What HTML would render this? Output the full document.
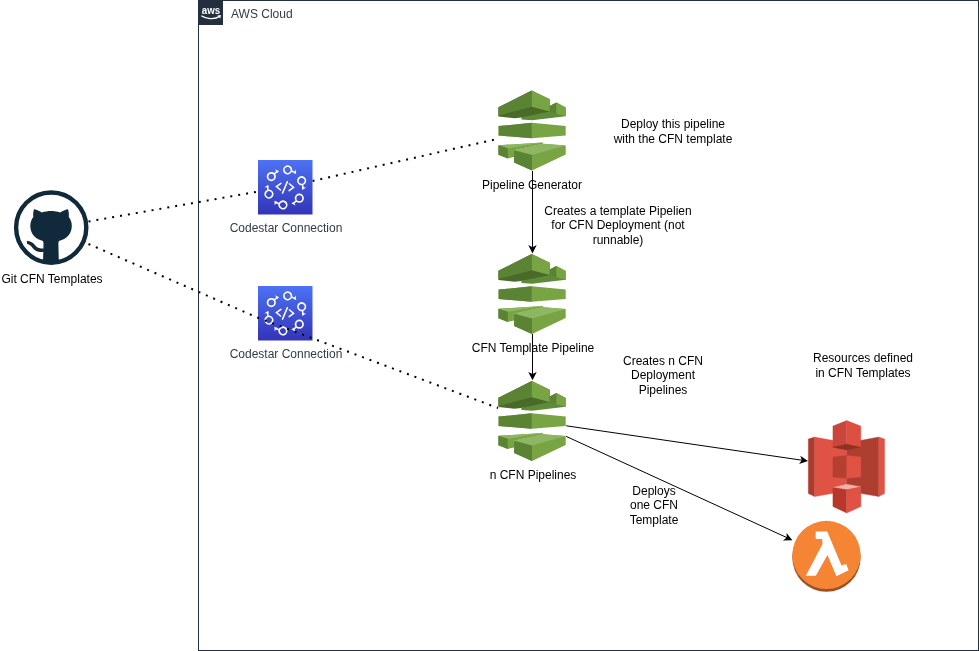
<!DOCTYPE html>
<html><head><meta charset="utf-8">
<style>
html,body{margin:0;padding:0;background:#fff;}
body{width:979px;height:651px;position:relative;overflow:hidden;font-family:"Liberation Sans",sans-serif;}
svg{position:absolute;left:0;top:0;will-change:transform;}
.t{position:absolute;will-change:transform;font-size:12px;line-height:14.4px;color:#000;text-align:center;white-space:nowrap;}
.g{color:#000;}
.n{color:#313B47;}
</style></head>
<body>
<svg width="979" height="651" viewBox="0 0 979 651">
<defs>
<linearGradient id="dev" x1="0" y1="0" x2="0" y2="1">
<stop offset="0" stop-color="#4D72F3"/><stop offset="1" stop-color="#3334B9"/>
</linearGradient>
<g id="cp">
<polygon points="23.4,27.5 51.7,15.9 58.4,12.6 67.7,17.4 67.7,26.2 34.0,30.2 23.4,29.4" fill="#5F8A37"/>
<polygon points="51.7,15.9 58.4,12.6 58.4,23.8 51.7,22.2" fill="#5A8434"/>
<polygon points="58.4,12.6 67.7,17.4 67.7,26.2 58.4,23.8" fill="#78A443"/>
<polygon points="0.4,17.2 33.7,0.6 51.7,9.2 51.7,21.4 23.4,27.6 16.5,28.2 0.4,26.4" fill="#4A6A2A"/>
<polygon points="0.4,17.2 33.7,0.6 33.7,16.8 0.4,25.4" fill="#5A8434"/>
<polygon points="33.7,0.6 51.7,9.2 51.7,21.4 33.7,16.8" fill="#78A443"/>
<polygon points="0.6,36.1 33.7,32.7 67.7,36.1 67.7,45.4 33.7,48.3 0.6,45.4" fill="#78A443"/>
<polygon points="0.6,36.1 33.7,32.7 33.7,48.3 0.6,45.4" fill="#5A8434"/>
<polygon points="0.4,55.3 44.9,52.4 44.9,53.8 16.1,60.3 16.1,66.9 9.8,68.4 0.4,64.8" fill="#78A443"/>
<polygon points="0.4,55.3 44.9,52.4 9.8,58.3" fill="#8FB763"/>
<polygon points="0.4,55.3 9.8,58.3 9.8,68.4 0.4,64.8" fill="#5A8434"/>
<polygon points="16.1,60.3 44.9,53.8 67.7,55.4 67.7,64.6 34.0,80.6 16.1,72.6" fill="#78A443"/>
<polygon points="16.1,60.3 44.9,53.8 67.7,55.4 34.0,65.1" fill="#8FB763"/>
<polygon points="16.1,60.3 34.0,65.1 34.0,80.6 16.1,72.6" fill="#5A8434"/>
</g>
<g id="csym">
<rect x="258" y="160" width="54.5" height="54.5" fill="url(#dev)"/>
<g fill="none" stroke="#fff" stroke-width="1.5" stroke-linecap="round" stroke-linejoin="miter">
<polyline points="280.9,183.4 276.4,186.6 280.5,190"/>
<line x1="287.4" y1="181.6" x2="282.5" y2="193.1"/>
<polyline points="289.4,183.8 293.6,187.4 289.1,190.6"/>
</g>
<g id="mars">
<circle cx="271.3" cy="176.6" r="3.75" fill="none" stroke="#fff" stroke-width="1.7"/>
<line x1="274.2" y1="173.9" x2="277" y2="171.7" stroke="#fff" stroke-width="1.5"/>
<polygon points="275.1,169.3 279.1,171.3 277,173.1" fill="#fff"/>
</g>
<use href="#mars" transform="rotate(60 285.3 187.4)"/>
<use href="#mars" transform="rotate(120 285.3 187.4)"/>
<use href="#mars" transform="rotate(180 285.3 187.4)"/>
<use href="#mars" transform="rotate(240 285.3 187.4)"/>
<use href="#mars" transform="rotate(300 285.3 187.4)"/>
</g>
</defs>

<!-- AWS Cloud group -->
<rect x="198.5" y="0.5" width="780" height="650" fill="none" stroke="#232F3E" stroke-width="1"/>
<rect x="198" y="0" width="25" height="25" fill="#232F3E"/>
<text x="201.8" y="13.8" font-family="Liberation Sans" font-weight="bold" font-size="10.6" fill="#fff" textLength="18.3" lengthAdjust="spacingAndGlyphs">aws</text>
<path d="M201.3,15.7 C205.5,18.8 214.5,20 219.6,16.4" fill="none" stroke="#fff" stroke-width="1.3"/>
<polygon points="217.3,15.4 220.9,15.1 220.3,18.6" fill="#fff"/>

<!-- dotted lines -->
<g stroke="#000" stroke-width="2" stroke-dasharray="2 6" fill="none">
<path d="M88.5,221.5 L258.5,191.5"/>
<path d="M312.5,181 L497,139"/>
</g>

<!-- codestar icons -->
<use href="#csym"/>
<use href="#csym" y="126"/>



<!-- github -->
<clipPath id="ghc"><circle cx="51.2" cy="227.6" r="34"/></clipPath>
<circle cx="51.2" cy="227.6" r="35.1" fill="none" stroke="#10293B" stroke-width="4.4"/>
<g fill="#10293B" clip-path="url(#ghc)">
<path d="M34,209.3 C35.8,209.3 38.8,210.8 42,212.5 C44.8,211.5 47.8,211 51,211 C54.2,211 57.2,211.5 60,212.5 C63.2,210.8 66.2,209.3 68,209.3 C68.9,211.7 69,214.5 68.8,216.9 C70.8,219.4 71.8,222.4 71.8,226 C71.8,233.8 66.5,239 59,241 C58.6,241.5 58.4,242.5 58.4,244 L58.8,262 L43,262 L43.5,244 C43.5,242.5 43.3,241.5 42.9,241 C35.5,239 30.3,233.8 30.3,226 C30.3,222.4 31.3,219.4 33.3,216.9 C33,214.5 33.1,211.7 34,209.3 Z"/>
<path d="M26.8,240.7 C30.5,240.9 33.2,242.7 35.3,245.4 C37.2,247.9 39.8,248.6 43.8,248.6 L43.8,252.1 C38.8,252.1 35.3,251.3 33,248.4 C31.2,246 29.6,244.3 27.2,243.9 Z"/>
</g>

<!-- pipelines -->
<use href="#cp" x="498" y="90"/>
<use href="#cp" x="498" y="253.5"/>
<use href="#cp" x="498" y="380.5"/>

<g id="s3">
<!-- left wing -->
<polygon points="808.3,439 814.7,437 814.7,496.6 808.3,493.5" fill="#AC3A2D" stroke="#AC3A2D" stroke-width="0.35"/>
<polygon points="814.7,437 846.7,443 846.7,491 814.7,496.6" fill="#E05243" stroke="#E05243" stroke-width="0.35"/>
<!-- right wing -->
<polygon points="846.7,443 878.8,437 878.8,496.6 846.7,491" fill="#AD3E30" stroke="#AD3E30" stroke-width="0.35"/>
<polygon points="878.8,437 884.6,439 884.6,493.5 878.8,496.6" fill="#E05243" stroke="#E05243" stroke-width="0.35"/>
<!-- top cube -->
<polygon points="832.9,426 846.7,420.6 846.7,449.5 832.9,447.2" fill="#C9463A" stroke="#C9463A" stroke-width="0.35"/>
<polygon points="846.7,420.6 860.8,426 860.8,447.2 846.7,449.5" fill="#DC4F41" stroke="#DC4F41" stroke-width="0.35"/>
<polygon points="832.9,447.2 846.7,444.2 860.8,447.2 846.7,449.9" fill="#8C3123" stroke="#8C3123" stroke-width="0.35"/>
<!-- middle cube -->
<polygon points="832.9,457.1 846.7,455.4 846.7,478.2 832.9,476.9" fill="#B53F30" stroke="#B53F30" stroke-width="0.35"/>
<polygon points="846.7,455.4 860.9,457.1 860.9,476.9 846.7,478.2" fill="#E05243" stroke="#E05243" stroke-width="0.35"/>
<!-- bottom cube -->
<polygon points="832.9,487.6 846.7,484.2 860.9,486.8 846.7,489.8" fill="#F2B0A9" stroke="#F2B0A9" stroke-width="0.35"/>
<polygon points="832.9,487.6 846.7,489.8 846.7,513 832.9,506.6" fill="#B7372B" stroke="#B7372B" stroke-width="0.35"/>
<polygon points="846.7,489.8 860.9,486.8 860.9,506.6 846.7,513" fill="#E05243" stroke="#E05243" stroke-width="0.35"/>
</g>
<g id="lam">
<circle cx="826.45" cy="557.6" r="34.15" fill="#9D5025"/>
<circle cx="826.45" cy="554.95" r="34.15" fill="#F58534"/>
<polygon points="815.7,531.4 827.2,531.4 841.5,565.5 846.2,564 848.6,570.2 836.4,576.2 827.5,555 815.8,575.8 805.8,575.8 822.5,544 822.2,539 815.7,539" fill="#fff"/>
</g>
<!-- arrows -->
<g stroke="#000" stroke-width="1" fill="none">
<path d="M532.5,171 L532.5,248"/>
<path d="M532.5,334 L532.5,375"/>
<path d="M566.2,425.8 L802.6,460.3"/>
<path d="M566.2,436.4 L787.5,537.9"/>
</g>
<g fill="#000">
<polygon points="532.50,253.40 528.30,245.00 532.50,247.20 536.70,245.00"/>
<polygon points="532.50,380.30 528.30,371.90 532.50,374.10 536.70,371.90"/>
<polygon points="808.00,461.10 799.08,464.04 801.87,460.20 800.29,455.73"/>
<polygon points="792.40,540.20 783.01,540.51 786.76,537.61 786.52,532.88"/>
</g>

</svg>

<div class="t n" style="left:230.5px;top:7px;text-align:left;">AWS Cloud</div>
<div class="t g" style="left:432px;top:178px;width:200px;">Pipeline Generator</div>
<div class="t n" style="left:186px;top:220.5px;width:200px;">Codestar Connection</div>
<div class="t n" style="left:186px;top:346.5px;width:200px;">Codestar Connection</div>
<div class="t" style="left:-48.2px;top:272px;width:200px;">Git CFN Templates</div>
<div class="t g" style="left:573px;top:116.5px;width:200px;">Deploy this pipeline</div>
<div class="t g" style="left:573px;top:131.9px;width:200px;">with the CFN template</div>
<div class="t g" style="left:518px;top:203.6px;width:200px;">Creates a template Pipelien<br>for CFN Deployment (not<br>runnable)</div>
<div class="t g" style="left:432.5px;top:340.5px;width:200px;">CFN Template Pipeline</div>
<div class="t g" style="left:563px;top:354.3px;width:200px;">Creates n CFN<br>Deployment<br>Pipelines</div>
<div class="t g" style="left:763px;top:350.5px;width:200px;">Resources defined</div>
<div class="t g" style="left:763px;top:365.9px;width:200px;">in CFN Templates</div>
<div class="t g" style="left:432.5px;top:468px;width:200px;">n CFN Pipelines</div>
<div class="t g" style="left:554.3px;top:484px;width:200px;">Deploys<br>one CFN<br>Template</div>
<svg width="979" height="651" viewBox="0 0 979 651" style="position:absolute;left:0;top:0;">
<g stroke="#000" stroke-width="2" stroke-dasharray="2 6" fill="none">
<path d="M88.5,244 L258.5,318 L498,408"/>
</g>
<g stroke="#000" stroke-width="1" fill="none">
<path d="M532.5,171 L532.5,248"/>
<path d="M532.5,334 L532.5,375"/>
</g>
</svg>
</body></html>
